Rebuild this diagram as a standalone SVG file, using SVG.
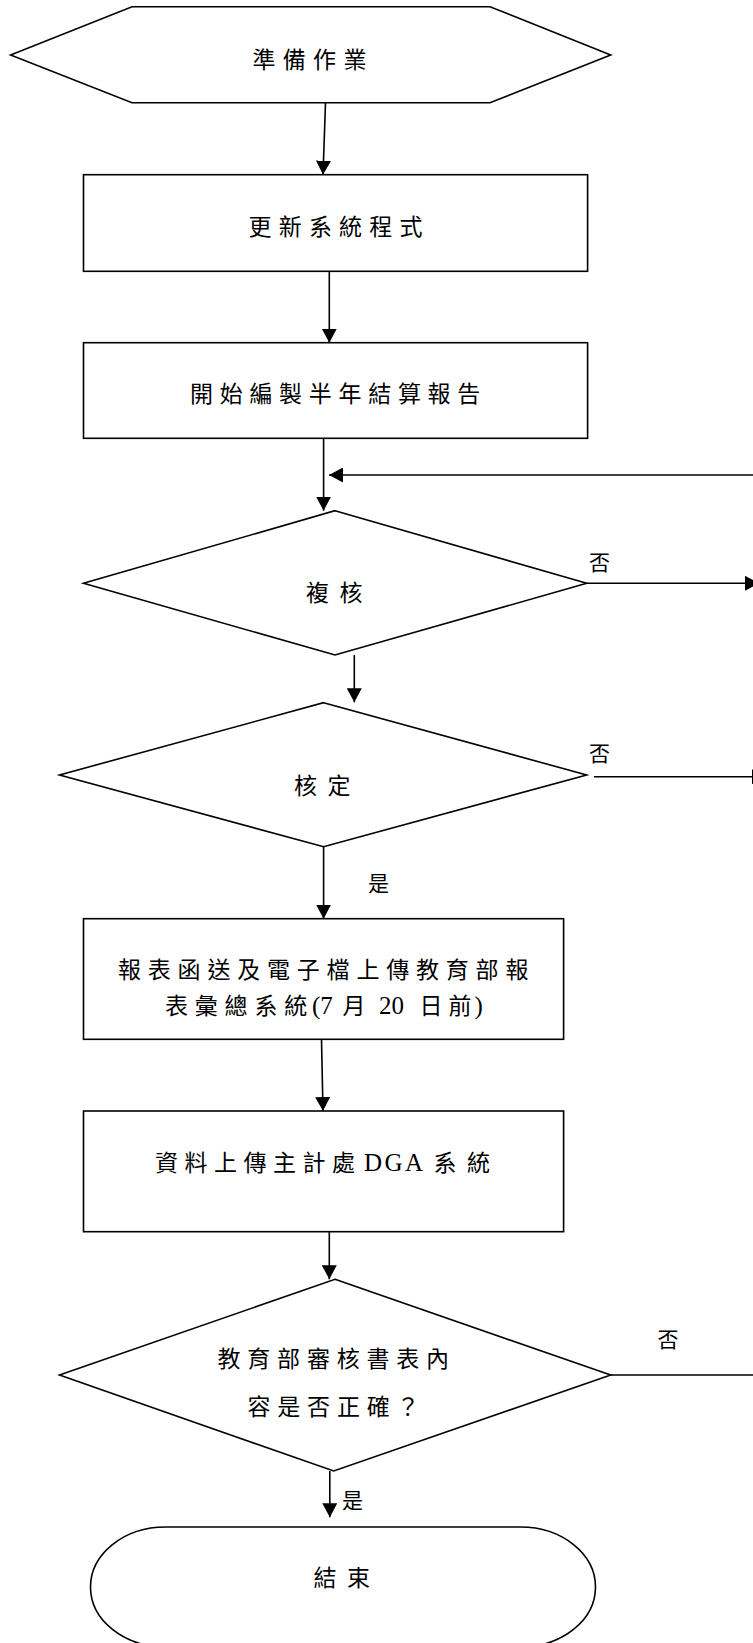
<svg xmlns="http://www.w3.org/2000/svg" width="753" height="1643" viewBox="0 0 753 1643">
<style>
.shape{fill:#fff;stroke:#000;stroke-width:1.6}
.conn line{stroke:#000;stroke-width:1.6;fill:none}
.t{font-family:"Noto Sans CJK TC","Noto Sans CJK SC",sans-serif;font-size:23px;fill:#000}
.lab{font-family:"Noto Sans CJK TC","Noto Sans CJK SC",sans-serif;font-size:21px;fill:#000}
.lat{font-family:"Liberation Serif",serif;font-size:25px}
</style>
<defs>
<marker id="ah" markerUnits="userSpaceOnUse" markerWidth="15" markerHeight="15" refX="14" refY="7.5" orient="auto">
<path d="M0,0 L14,7.5 L0,15 Z" fill="#000"/>
</marker>
</defs>
<rect width="753" height="1643" fill="#fff"/>
<g class="conn">
<line x1="325.5" y1="103" x2="323" y2="174.7" marker-end="url(#ah)"/>
<line x1="329.3" y1="271.3" x2="329.3" y2="342.7" marker-end="url(#ah)"/>
<line x1="323.6" y1="438.3" x2="323.6" y2="510.7" marker-end="url(#ah)"/>
<line x1="770" y1="475" x2="329" y2="475" marker-end="url(#ah)"/>
<line x1="586.7" y1="583.3" x2="759" y2="583.3" marker-end="url(#ah)"/>
<line x1="354.3" y1="655" x2="354.3" y2="702.3" marker-end="url(#ah)"/>
<line x1="593.9" y1="776.7" x2="766" y2="776.7" marker-end="url(#ah)"/>
<line x1="323.6" y1="846.7" x2="323.6" y2="918.7" marker-end="url(#ah)"/>
<line x1="321.5" y1="1039.3" x2="323" y2="1111" marker-end="url(#ah)"/>
<line x1="329.3" y1="1231.7" x2="329.3" y2="1279.3" marker-end="url(#ah)"/>
<line x1="610.7" y1="1375" x2="760" y2="1375"/>
<line x1="329.8" y1="1471" x2="329.8" y2="1517.3" marker-end="url(#ah)"/>
<text class="lab" x="589" y="569.7">否</text>
<text class="lab" x="589" y="761">否</text>
<text class="lab" x="368" y="890.5">是</text>
<text class="lab" x="657.5" y="1347">否</text>
<text class="lab" x="342" y="1508">是</text>
</g>
<g id="start">
<polygon class="shape" points="10.6,55 132,6.7 490,6.7 610.7,55 490,102.7 132,102.7"/>
<text class="t" x="252.5" y="67.7" letter-spacing="7.3">準備作業</text>
</g>
<g id="update">
<rect class="shape" x="83.5" y="174.7" width="504.1" height="96.6"/>
<text class="t" x="248.5" y="235.3" letter-spacing="7.2">更新系統程式</text>
</g>
<g id="compile">
<rect class="shape" x="83.5" y="342.7" width="504.1" height="95.6"/>
<text class="t" x="190" y="401.8" letter-spacing="6.7">開始編製半年結算報告</text>
</g>
<g id="review">
<polygon class="shape" points="335,510.7 586.7,583.3 335,655 83.5,583.3"/>
<text class="t" x="306" y="601.3" letter-spacing="10.5">複核</text>
</g>
<g id="approve">
<polygon class="shape" points="323.6,702.7 586.7,775 323.6,846.7 59.5,775"/>
<text class="t" x="294" y="793.8" letter-spacing="10.5">核定</text>
</g>
<g id="submit">
<rect class="shape" x="83.5" y="918.7" width="480.1" height="120.6"/>
<text class="t" x="118" y="977.8" letter-spacing="6.8">報表函送及電子檔上傳教育部報</text>
<text class="t" y="1013.8"><tspan x="165" letter-spacing="6.8">表彙總系統</tspan><tspan class="lat" x="312">(7</tspan><tspan x="342.5">月</tspan><tspan class="lat" x="379">20</tspan><tspan x="419.5" letter-spacing="6">日前</tspan><tspan class="lat" x="474.5">)</tspan></text>
</g>
<g id="upload">
<rect class="shape" x="83.5" y="1111" width="480.1" height="120.7"/>
<text class="t" y="1171.3"><tspan x="155" letter-spacing="6.5">資料上傳主計處</tspan><tspan class="lat" x="364" letter-spacing="2.5">DGA</tspan><tspan x="433.5" letter-spacing="10.5">系統</tspan></text>
</g>
<g id="moe-check">
<polygon class="shape" points="335,1279.3 610.7,1375 333.7,1471 59.5,1375"/>
<text class="t" x="217.5" y="1366.8" letter-spacing="6.8">教育部審核書表內</text>
<text class="t" x="247.5" y="1414.8" letter-spacing="6.8">容是否正確？</text>
</g>
<g id="end">
<rect class="shape" x="90.5" y="1527" width="505" height="120" rx="75" ry="60"/>
<text class="t" x="313.5" y="1586.3" letter-spacing="10.5">結束</text>
</g>
</svg>
